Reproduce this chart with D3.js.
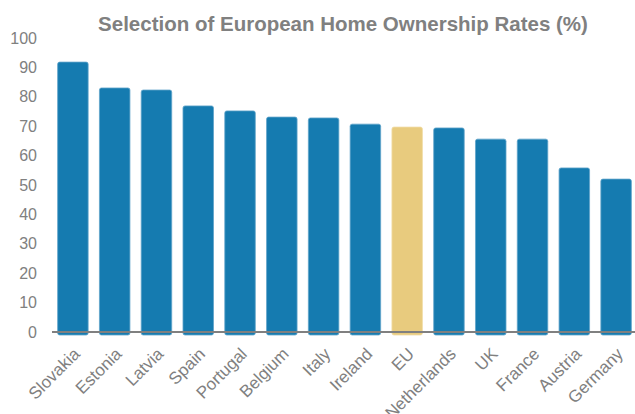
<!DOCTYPE html>
<html>
<head>
<meta charset="utf-8">
<script src="https://cdn.jsdelivr.net/npm/d3@7"></script>
<style>
  body { margin: 0; background: #fff; }
  svg { display: block; font-family: "Liberation Sans", Arial, sans-serif; }
</style>
</head>
<body>
<svg id="chart" width="635" height="414"></svg>
<script>
// values
const countries = ["Slovakia", "Estonia", "Latvia", "Spain", "Portugal", "Belgium", "Italy",
  "Ireland", "EU", "Netherlands", "UK", "France", "Austria", "Germany"];
const rates = [91.8, 83.0, 82.3, 76.9, 75.2, 73.1, 72.8, 70.7, 69.7, 69.4, 65.6, 65.6, 55.8, 52.0];
const yTicks = [0, 10, 20, 30, 40, 50, 60, 70, 80, 90, 100];
const highlight = "EU";

const svg = d3.select("#chart");
const grey = "#808080";
const font = "'Liberation Sans', Arial, sans-serif";

const x = d3.scaleBand().domain(countries).range([52, 637]).paddingInner(0.27).paddingOuter(0.135);
const y = d3.scaleLinear().domain([0, 100]).range([332, 38]);

svg.append("text")
  .attr("x", 343).attr("y", 31)
  .attr("text-anchor", "middle")
  .attr("fill", grey)
  .attr("font-size", 20.5).attr("font-weight", "bold")
  .text("Selection of European Home Ownership Rates (%)");

// y axis, labels only
const yAxis = svg.append("g")
  .attr("transform", "translate(37,0)")
  .call(d3.axisLeft(y).tickValues(yTicks).tickSize(0).tickPadding(0));
yAxis.select(".domain").remove();
yAxis.selectAll("text")
  .attr("fill", grey).attr("font-size", 16)
  .attr("font-family", font);

svg.append("g")
  .selectAll("rect")
  .data(countries)
  .join("rect")
  .attr("x", d => x(d))
  .attr("width", x.bandwidth())
  .attr("y", (d, i) => y(rates[i]))
  .attr("height", (d, i) => y(0) - y(rates[i]) + 3)
  .attr("rx", 2)
  .attr("fill", d => d === highlight ? "#e8cb7e" : "#157bb0")
  .attr("stroke", d => d === highlight ? "#f0dca6" : "#5fa3c9")
  .attr("stroke-width", 0.8);

// x axis line and rotated labels (Netherlands runs off the bottom, as in the original)
const xAxis = svg.append("g")
  .attr("transform", `translate(0,${y(0)})`)
  .call(d3.axisBottom(x).tickSize(0).tickPadding(0));
xAxis.select(".domain")
  .attr("stroke", grey).attr("stroke-width", 2)
  .attr("d", "M52,0H635");
xAxis.selectAll("text")
  .attr("fill", grey).attr("font-size", 17)
  .attr("font-family", font)
  .attr("text-anchor", "end")
  .attr("dy", 0)
  .attr("transform", "translate(8,23) rotate(-45)");
</script>
</body>
</html>
